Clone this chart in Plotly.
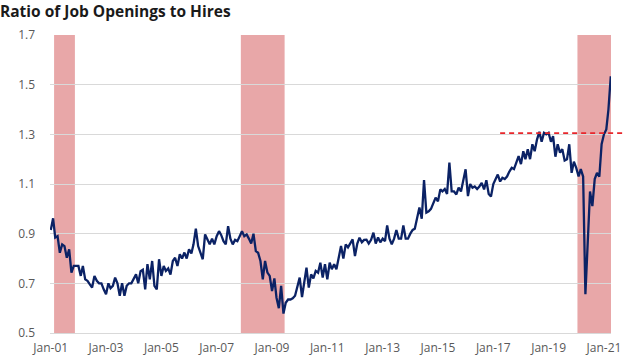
import pandas as pd
import plotly.graph_objects as go

# ---- data: monthly ratio of job openings to hires ----
v2001 = [0.915, 0.962, 0.884, 0.89, 0.823, 0.857, 0.85, 0.803, 0.837, 0.743, 0.77, 0.77]
v2002 = [0.77, 0.73, 0.77, 0.716, 0.71, 0.696, 0.683, 0.73, 0.71, 0.70, 0.70, 0.676]
v2003 = [0.656, 0.70, 0.68, 0.69, 0.723, 0.70, 0.65, 0.70, 0.65, 0.69, 0.70, 0.70]
v2004 = [0.72, 0.736, 0.70, 0.749, 0.755, 0.676, 0.777, 0.716, 0.79, 0.69, 0.676, 0.797]
v2005 = [0.73, 0.77, 0.75, 0.76, 0.735, 0.79, 0.803, 0.77, 0.817, 0.80, 0.824, 0.80]
v2006 = [0.837, 0.82, 0.857, 0.92, 0.85, 0.82, 0.797, 0.897, 0.875, 0.857, 0.88, 0.857]
v2007 = [0.89, 0.91, 0.895, 0.87, 0.857, 0.93, 0.88, 0.857, 0.875, 0.87, 0.89, 0.91]
v2008 = [0.89, 0.897, 0.88, 0.86, 0.90, 0.83, 0.823, 0.79, 0.716, 0.79, 0.743, 0.73]
v2009 = [0.669, 0.72, 0.642, 0.60, 0.69, 0.578, 0.622, 0.635, 0.635, 0.64, 0.65, 0.683]
v2010 = [0.723, 0.645, 0.70, 0.763, 0.683, 0.736, 0.72, 0.75, 0.743, 0.783, 0.723, 0.777]
v2011 = [0.716, 0.783, 0.757, 0.777, 0.757, 0.81, 0.85, 0.80, 0.857, 0.845, 0.86, 0.877]
v2012 = [0.81, 0.86, 0.884, 0.865, 0.875, 0.876, 0.86, 0.875, 0.904, 0.86, 0.885, 0.865]
v2013 = [0.88, 0.87, 0.933, 0.88, 0.857, 0.88, 0.915, 0.88, 0.88, 0.933, 0.88, 0.88]
v2014 = [0.90, 0.915, 0.92, 0.97, 1.005, 0.96, 1.116, 0.985, 0.99, 1.00, 1.02, 1.045]
v2015 = [1.03, 1.078, 1.07, 1.08, 1.06, 1.186, 1.07, 1.07, 1.058, 1.085, 1.07, 1.112]
v2016 = [1.159, 1.051, 1.10, 1.085, 1.09, 1.08, 1.09, 1.105, 1.078, 1.115, 1.06, 1.05]
v2017 = [1.10, 1.12, 1.138, 1.11, 1.125, 1.12, 1.13, 1.15, 1.165, 1.16, 1.186, 1.212]
v2018 = [1.18, 1.232, 1.20, 1.24, 1.20, 1.26, 1.232, 1.279, 1.31, 1.27, 1.306, 1.30]
v2019 = [1.306, 1.27, 1.293, 1.21, 1.26, 1.226, 1.24, 1.195, 1.20, 1.26, 1.145, 1.19]
v2020 = [1.165, 1.13, 1.16, 1.13, 0.656, 0.85, 1.07, 1.011, 1.12, 1.145, 1.13, 1.26]
v2021 = [1.30, 1.32, 1.40, 1.534]

series_start = "2001-01-01"

# recession periods (first and last month)
rec_start = ["2001-03-01", "2007-12-01", "2020-02-01"]
rec_end = ["2001-11-01", "2009-06-01", "2021-04-01"]

# reference level (2018-19 peak) and where the dashed line begins
peak_level = 1.305
peak_line_start = "2017-04-01"

# axis
y_min, y_max = 0.5, 1.7
y_ticks = [0.5, 0.7, 0.9, 1.1, 1.3, 1.5, 1.7]
x_tick_dates = ["2001-01-01", "2003-01-01", "2005-01-01", "2007-01-01", "2009-01-01",
                "2011-01-01", "2013-01-01", "2015-01-01", "2017-01-01", "2019-01-01",
                "2021-01-01"]
x_tick_text = ["Jan-01", "Jan-03", "Jan-05", "Jan-07", "Jan-09", "Jan-11",
               "Jan-13", "Jan-15", "Jan-17", "Jan-19", "Jan-21"]
x_range = ["2000-12-22", "2021-04-04"]

ratio = (v2001 + v2002 + v2003 + v2004 + v2005 + v2006 + v2007 + v2008 + v2009 +
         v2010 + v2011 + v2012 + v2013 + v2014 + v2015 + v2016 + v2017 + v2018 +
         v2019 + v2020 + v2021)
months = pd.date_range(series_start, periods=len(ratio), freq="MS")

fig = go.Figure()

half_month = pd.Timedelta(days=15)
for s, e in zip(rec_start, rec_end):
    fig.add_shape(type="rect", xref="x", yref="y",
                  x0=pd.Timestamp(s) - half_month, x1=pd.Timestamp(e) + half_month,
                  y0=y_min, y1=y_max, fillcolor="#E8A7A8", line_width=0, layer="below")

fig.add_trace(go.Scatter(x=months, y=ratio, mode="lines",
                         line=dict(color="#0B2265", width=2.3),
                         hoverinfo="skip", showlegend=False))

# dashed reference line: start from the data date, run past the plot's right edge
r0, r1 = pd.Timestamp(x_range[0]), pd.Timestamp(x_range[1])
frac0 = (pd.Timestamp(peak_line_start) - r0) / (r1 - r0)
fig.add_shape(type="line", xref="x domain", yref="y",
              x0=frac0, x1=1.03, y0=peak_level, y1=peak_level,
              line=dict(color="#E8262B", width=1.6, dash="5px,4px"), layer="above")

fig.update_layout(
    width=626, height=355,
    margin=dict(l=50, r=15, t=35, b=22, autoexpand=False),
    paper_bgcolor="white", plot_bgcolor="white",
    font=dict(family="Open Sans", size=12, color="#595959"),
    title=dict(text="<b>Ratio of Job Openings to Hires</b>", x=0.0, xref="container",
               xanchor="left", y=0.966, yref="container", yanchor="middle",
               pad=dict(l=0, r=0, t=0, b=0), automargin=False,
               font=dict(family="Open Sans", size=15.5, color="#1a1a1a")),
    hovermode=False,
)
fig.update_xaxes(range=x_range, tickvals=x_tick_dates, ticktext=x_tick_text,
                 showgrid=False, zeroline=False, showline=True, linecolor="#D9D9D9",
                 linewidth=1, ticks="", ticklabelstandoff=4, automargin=False,
                 ticklabeloverflow="allow")
fig.update_yaxes(range=[y_min, y_max], tickvals=y_ticks, tickformat=".1f",
                 showgrid=True, gridcolor="#D9D9D9", gridwidth=1, zeroline=False,
                 showline=False, ticks="", ticklabelstandoff=14, automargin=False)

fig.write_html("out.html", config={"displayModeBar": False},
               post_script="document.body.style.margin='0px';document.body.style.overflow='hidden';")
